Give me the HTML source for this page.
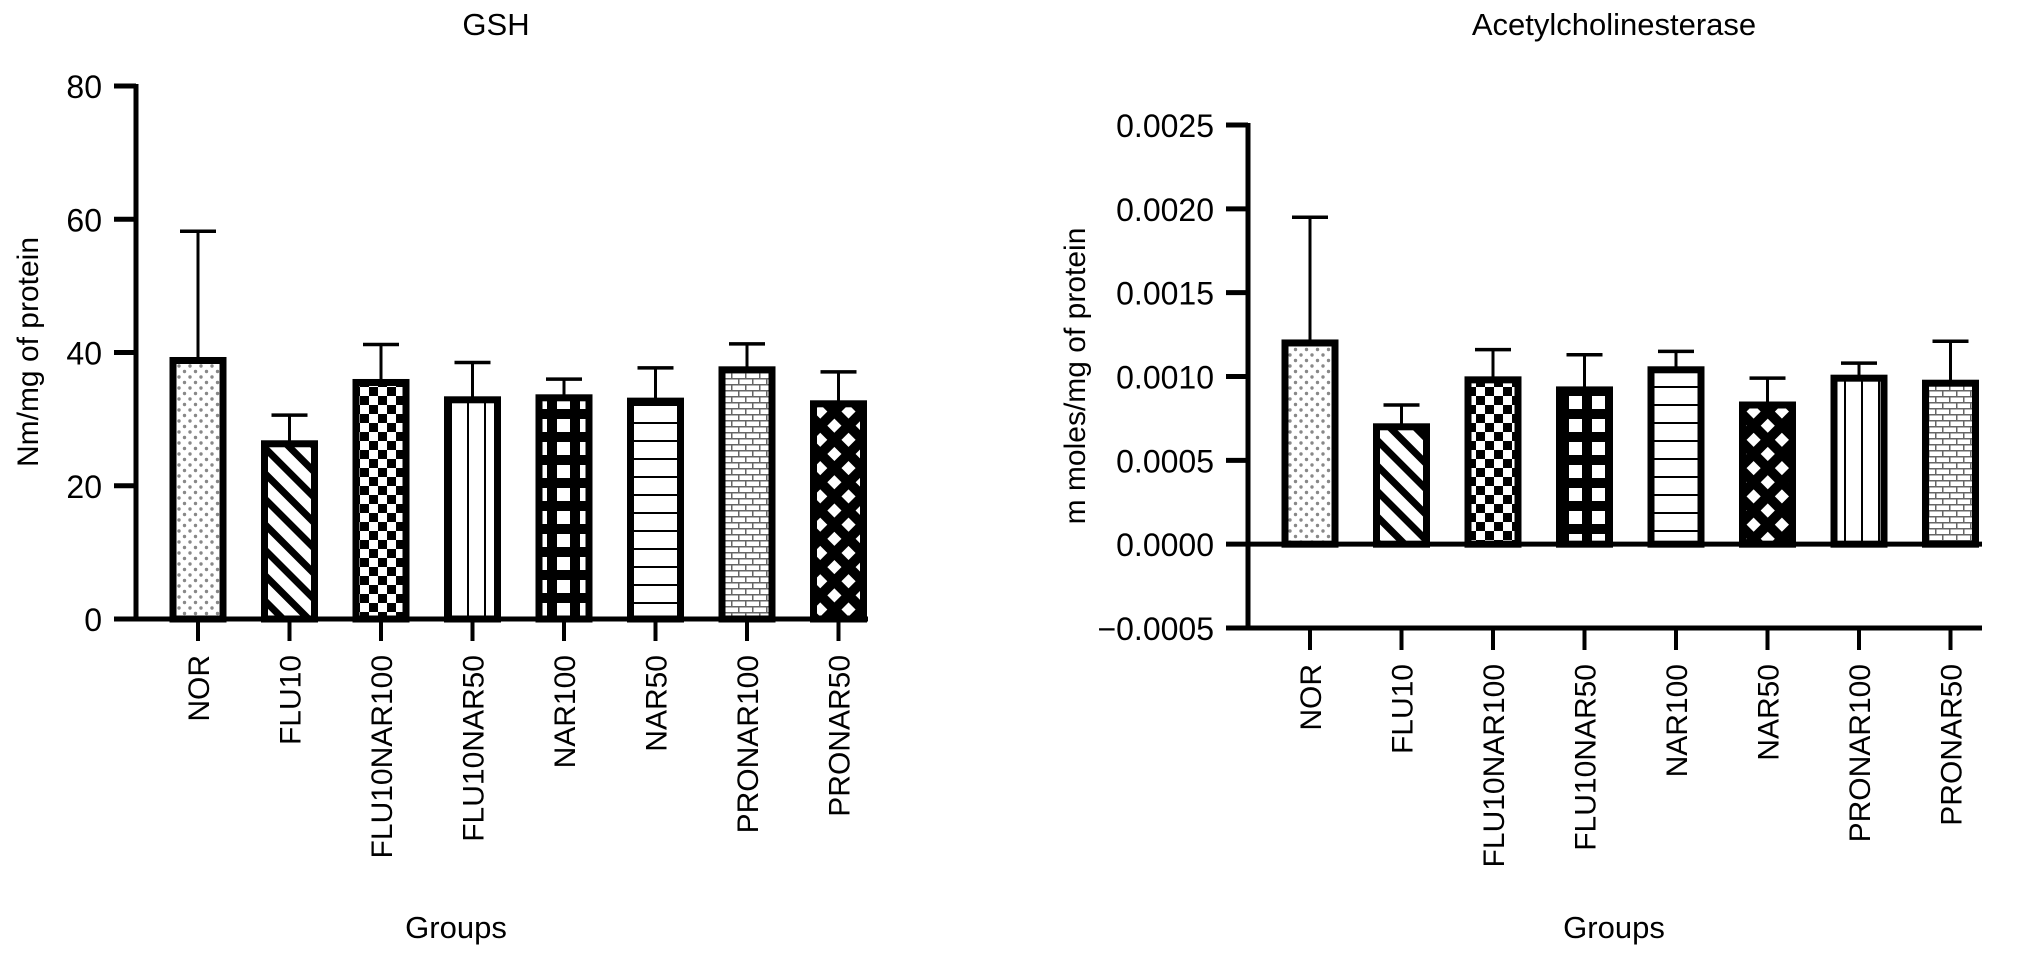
<!DOCTYPE html>
<html><head><meta charset="utf-8">
<style>
html,body{margin:0;padding:0;background:#fff;}
svg{display:block;font-family:"Liberation Sans",Arial,sans-serif;}
</style></head>
<body>
<svg id="chart" width="2032" height="955" viewBox="0 0 2032 955">
<defs>
  <pattern id="p-dots" width="11" height="11" patternUnits="userSpaceOnUse">
    <circle cx="3" cy="3" r="1.7" fill="#888"/><circle cx="8.5" cy="8.5" r="1.7" fill="#888"/>
  </pattern>
  <pattern id="p-diag" width="18" height="18" patternUnits="userSpaceOnUse" patternTransform="rotate(45)">
    <rect x="0" y="0" width="18" height="7" fill="#000"/>
  </pattern>
  <pattern id="p-check" width="18" height="18" patternUnits="userSpaceOnUse">
    <rect width="18" height="18" fill="#fff"/><rect x="0" y="0" width="9" height="9" fill="#000"/><rect x="9" y="9" width="9" height="9" fill="#000"/>
  </pattern>
  <pattern id="p-grid" width="23" height="23" patternUnits="userSpaceOnUse">
    <rect width="23" height="23" fill="#000"/><rect x="5" y="5" width="13" height="13" fill="#fff"/>
  </pattern>
  <pattern id="p-hlines" width="18" height="18" patternUnits="userSpaceOnUse">
    <rect width="18" height="18" fill="#fff"/><rect x="0" y="8" width="18" height="2" fill="#000"/>
  </pattern>
  <pattern id="p-vlines" width="17" height="17" patternUnits="userSpaceOnUse">
    <rect width="17" height="17" fill="#fff"/><rect x="8" y="0" width="2" height="17" fill="#000"/>
  </pattern>
  <pattern id="p-brick" width="14" height="12" patternUnits="userSpaceOnUse">
    <rect width="14" height="12" fill="#fff"/>
    <rect x="0" y="0" width="14" height="1.5" fill="#666"/><rect x="0" y="6" width="14" height="1.5" fill="#666"/>
    <rect x="3" y="0" width="1.5" height="6" fill="#666"/><rect x="10" y="6" width="1.5" height="6" fill="#666"/>
  </pattern>
  <pattern id="p-diamond" width="20" height="20" patternUnits="userSpaceOnUse" patternTransform="rotate(45)">
    <rect width="20" height="20" fill="#000"/><rect x="6" y="6" width="10" height="10" fill="#fff"/>
  </pattern>
</defs>
<g id="left"></g>
<g id="right"></g>
</svg>
<script>
const categories = ["NOR","FLU10","FLU10NAR100","FLU10NAR50","NAR100","NAR50","PRONAR100","PRONAR50"];
const gshValues = [38.8, 26.3, 35.5, 32.9, 33.2, 32.7, 37.4, 32.3];
const gshErrTop = [58.2, 30.6, 41.2, 38.5, 36.0, 37.7, 41.3, 37.1];
const gshTicks = [0, 20, 40, 60, 80];
const gshTickLabels = ["0","20","40","60","80"];
const gshPatterns = ["p-dots","p-diag","p-check","p-vlines","p-grid","p-hlines","p-brick","p-diamond"];
const acheValues = [0.00120, 0.00070, 0.00098, 0.00092, 0.00104, 0.00083, 0.00099, 0.00096];
const acheErrTop = [0.00195, 0.00083, 0.00116, 0.00113, 0.00115, 0.00099, 0.00108, 0.00121];
const acheTicks = [-0.0005, 0, 0.0005, 0.0010, 0.0015, 0.0020, 0.0025];
const acheTickLabels = ["\u22120.0005","0.0000","0.0005","0.0010","0.0015","0.0020","0.0025"];
const achePatterns = ["p-dots","p-diag","p-check","p-grid","p-hlines","p-diamond","p-vlines","p-brick"];

const NS = "http://www.w3.org/2000/svg";
function mk(parent, tag, attrs, text){
  const e = document.createElementNS(NS, tag);
  for (const k in attrs) e.setAttribute(k, attrs[k]);
  if (text !== undefined) e.textContent = text;
  parent.appendChild(e);
  return e;
}

function drawChart(g, cfg){
  const y = v => cfg.y0 - (v - cfg.vmin) / (cfg.vmax - cfg.vmin) * (cfg.y0 - cfg.y1);
  const x = i => cfg.firstX + i * cfg.step;
  let t = mk(g, "text", {x: cfg.titleX, y: 35, "font-size": 31, "text-anchor": "middle", fill: "#000"}, cfg.title);
  
  
  t = mk(g, "text", {x: 0, y: 0, "font-size": 30, "text-anchor": "middle", fill: "#000", transform: `translate(${cfg.ytX},${cfg.ytY}) rotate(-90)`}, cfg.yTitle);
  
  
  t = mk(g, "text", {x: cfg.groupsX, y: 938, "font-size": 31, "text-anchor": "middle", fill: "#000"}, "Groups");
  
  
  cfg.values.forEach((v, i) => {
    const cx = x(i);
    const base = y(0);
    const top = y(v);
    const eb = mk(g, "line", {x1: cx, x2: cx, y1: y(cfg.err[i]), y2: top, stroke: "#000", "stroke-width": 3});
    
    
    const cap = mk(g, "line", {x1: cx - 18, x2: cx + 18, y1: y(cfg.err[i]), y2: y(cfg.err[i]), stroke: "#000", "stroke-width": 3.5});
    
    
    const r = mk(g, "rect", {x: cx - 25, y: top, width: 50, height: base - top, fill: `url(#${cfg.patterns[i]})`, stroke: "#000", "stroke-width": 7});
    
    
    const tk = mk(g, "line", {x1: cx, x2: cx, y1: cfg.axisY, y2: cfg.axisY + 22, stroke: "#000", "stroke-width": 4});
    
    
    const lb = mk(g, "text", {x: 0, y: 0, "font-size": 30, "text-anchor": "end", fill: "#000", transform: `translate(${cx + 11},${cfg.axisY + 36}) rotate(-90)`}, categories[i]);
    
    
  });
  const ax = mk(g, "line", {x1: cfg.axisX, x2: cfg.axisX, y1: y(cfg.vmax) - 2, y2: cfg.axisY + 2, stroke: "#000", "stroke-width": 5});
  
  
  const xa = mk(g, "line", {x1: cfg.axisX - 2, x2: cfg.axisEnd, y1: cfg.axisY, y2: cfg.axisY, stroke: "#000", "stroke-width": 5});
  
  
  if (cfg.zeroLine) {
    const zl = mk(g, "line", {x1: cfg.axisX, x2: cfg.axisEnd, y1: y(0), y2: y(0), stroke: "#000", "stroke-width": 5});
    
    
  }
  cfg.ticks.forEach((v, i) => {
    const tk = mk(g, "line", {x1: cfg.axisX - 22, x2: cfg.axisX, y1: y(v), y2: y(v), stroke: "#000", "stroke-width": 5});
    
    
    const lb = mk(g, "text", {x: cfg.axisX - 34, y: y(v) + 12, "font-size": 32, "text-anchor": "end", fill: "#000"}, cfg.tickLabels[i]);
    
    
  });
}

drawChart(document.getElementById("left"), {
  title: "GSH", titleX: 496, groupsX: 456, yTitle: "Nm/mg of protein", ytX: 38, ytY: 352,
  vmin: 0, vmax: 80, y0: 619, y1: 86, axisX: 136, axisY: 619, axisEnd: 868,
  firstX: 198, step: 91.5, values: gshValues, err: gshErrTop, patterns: gshPatterns,
  ticks: gshTicks, tickLabels: gshTickLabels, zeroLine: false
});
drawChart(document.getElementById("right"), {
  title: "Acetylcholinesterase", titleX: 1614, groupsX: 1614, yTitle: "m moles/mg of protein", ytX: 1085, ytY: 376,
  vmin: -0.0005, vmax: 0.0025, y0: 628, y1: 125, axisX: 1248, axisY: 628, axisEnd: 1982,
  firstX: 1310, step: 91.5, values: acheValues, err: acheErrTop, patterns: achePatterns,
  ticks: acheTicks, tickLabels: acheTickLabels, zeroLine: true
});
</script>
</body></html>
